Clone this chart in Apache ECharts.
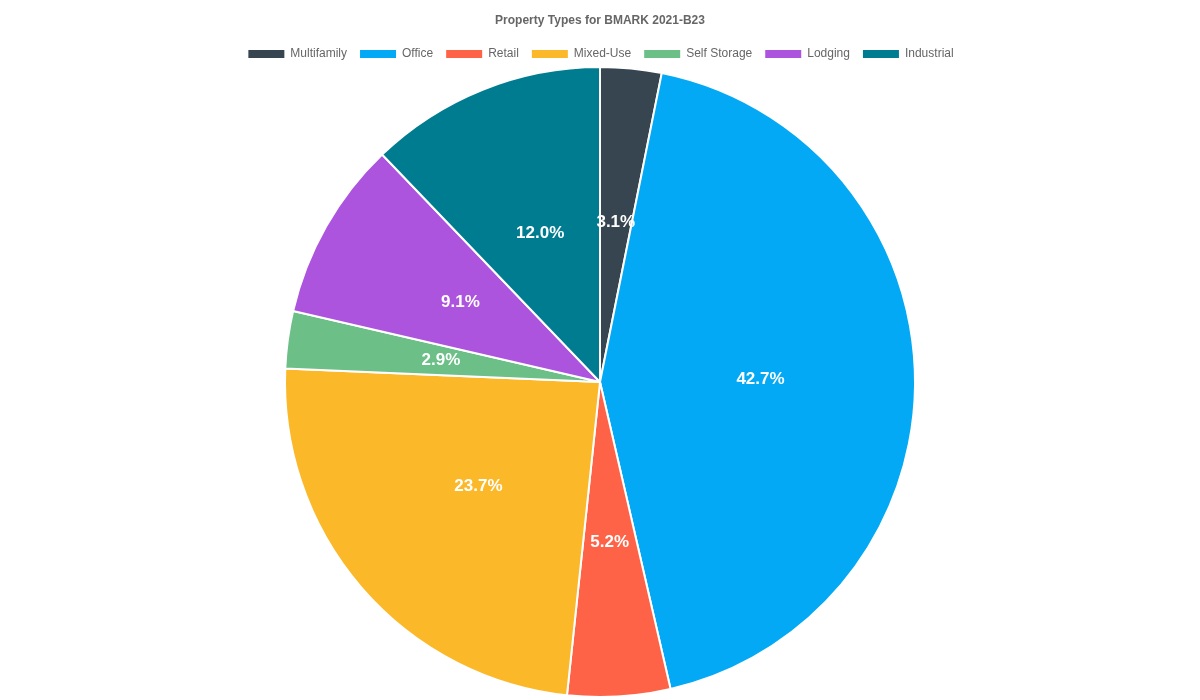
<!DOCTYPE html>
<html><head><meta charset="utf-8">
<script src="https://cdn.jsdelivr.net/npm/echarts@6/dist/echarts.min.js"></script>
<style>html,body{margin:0;padding:0;background:#fff}#c{width:1200px;height:700px}</style>
</head><body><div id="c"></div>
<script>
const categories = ['Multifamily','Office','Retail','Mixed-Use','Self Storage','Lodging','Industrial'];
const values = [3.1, 42.7, 5.2, 23.7, 2.9, 9.1, 12.0];
const colors = ['#36454F','#03A9F4','#FF6347','#FBB829','#6BBF87','#AD54DE','#007C91'];
const chart = echarts.init(document.getElementById('c'));
chart.setOption({
  color: colors,
  title: {text: 'Property Types for BMARK 2021-B23', left: 'center', top: 10,
    textStyle: {fontSize: 12, fontWeight: 'bold', color: '#666', fontFamily: 'Liberation Sans, Arial'}},
  legend: {top: 43, left: 'center', itemWidth: 38, itemHeight: 10, itemGap: 11, icon: 'rect',
    textStyle: {fontSize: 12, color: '#666', fontFamily: 'Liberation Sans, Arial'},
    data: categories},
  series: [{
    type: 'pie', center: [600, 382], radius: 315, startAngle: 90, clockwise: true,
    data: categories.map((c, i) => ({name: c, value: values[i]})),
    itemStyle: {borderColor: '#fff', borderWidth: 2},
    label: {position: 'inside', color: '#fff', fontSize: 17, fontWeight: 'bold',
      fontFamily: 'Liberation Sans, Arial',
      formatter: p => p.value.toFixed(1) + '%'},
    labelLine: {show: false}, emphasis: {scale: false}
  }]
});
</script></body></html>
